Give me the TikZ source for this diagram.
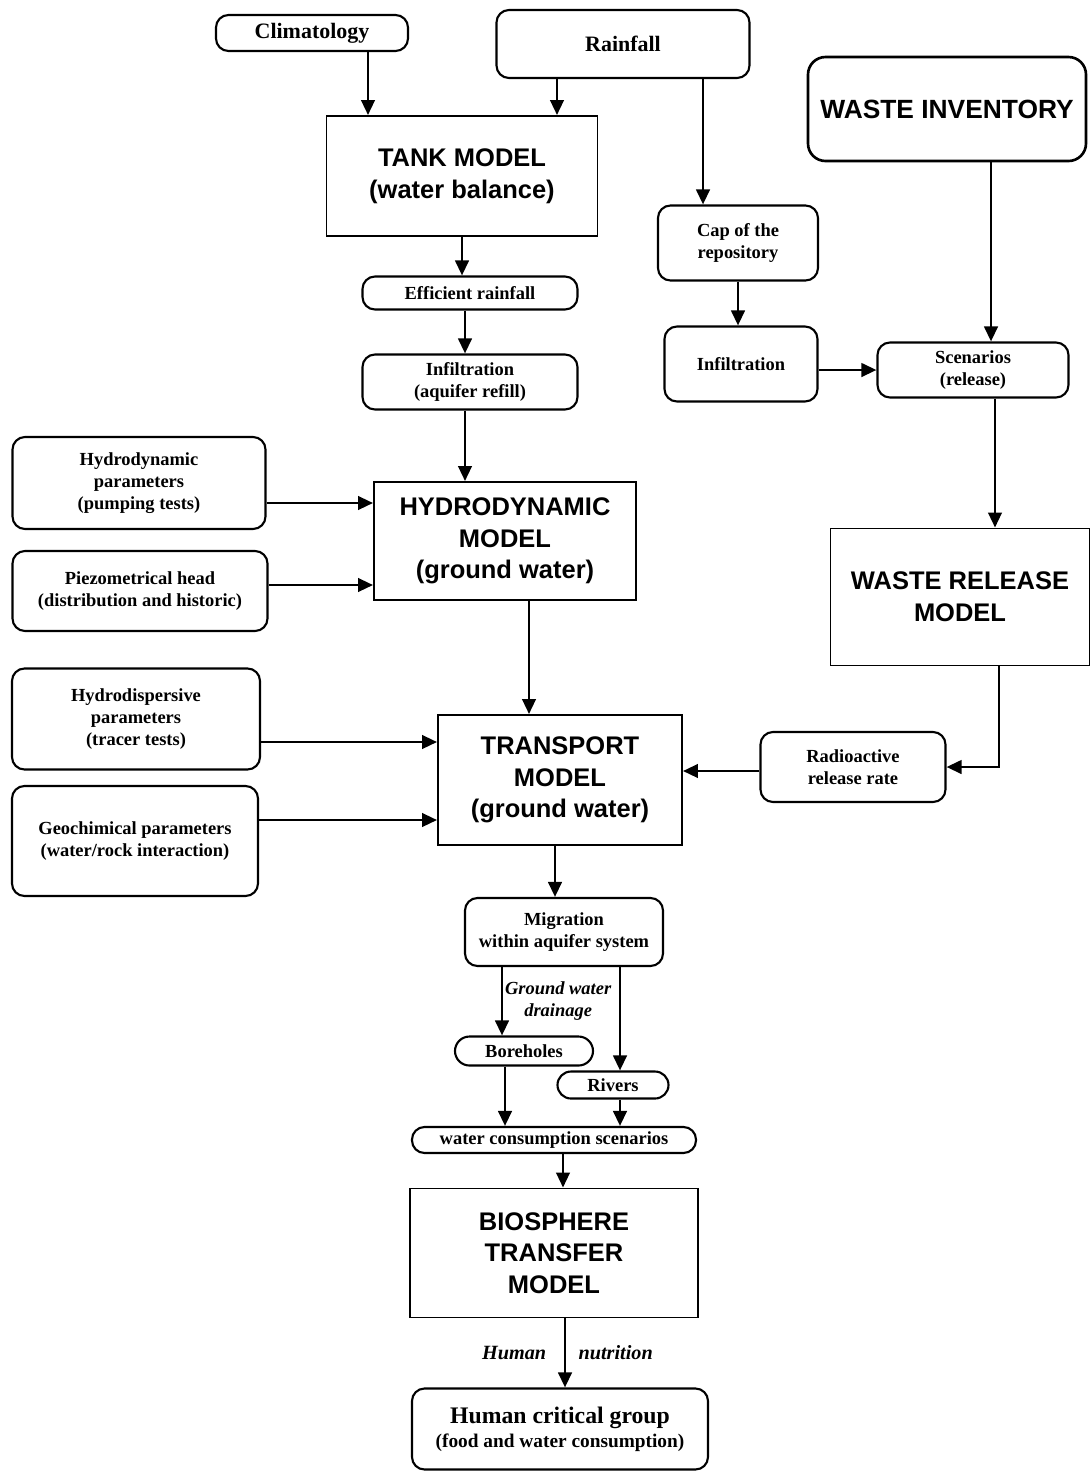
\documentclass[tikz,border=0pt]{standalone}
\usepackage{fontspec}
\setmainfont{Liberation Serif}
\setsansfont{Liberation Sans}
\usetikzlibrary{arrows.meta,positioning}

\begin{document}
\begin{tikzpicture}[
  x=0.2mm, y=-0.2mm,
  box/.style={draw, line width=1.2pt, rounded corners=2.5mm, align=center, inner sep=0pt, font=\bfseries\fontsize{10.5}{12.5}\selectfont},
  model/.style={draw, line width=1.1pt, align=center, inner sep=0pt, font=\sffamily\bfseries\fontsize{14.5}{18}\selectfont},
  flow/.style={-{Triangle[length=3mm, width=2.7mm]}, line width=1.5pt},
  note/.style={font=\bfseries\itshape\fontsize{10.5}{12.5}\selectfont, align=center, inner sep=1pt},
]
  \useasboundingbox (0,0) rectangle (1091,1472);

  \node[box, font=\bfseries\fontsize{12.5}{15}\selectfont, minimum width=3.84cm, minimum height=0.72cm] (clim) at (312,33) {Climatology};
  \node[box, font=\bfseries\fontsize{12.5}{15}\selectfont, minimum width=5.06cm, minimum height=1.36cm] (rain) at (623,44) {Rainfall};
  \node[model, minimum width=5.42cm, minimum height=2.4cm] (tank) at (462,176) {TANK MODEL\\(water balance)};
  \node[box, line width=1.5pt, rounded corners=3.5mm, font=\sffamily\bfseries\fontsize{15}{18}\selectfont, minimum width=5.56cm, minimum height=2.08cm] (inv) at (947,109) {WASTE INVENTORY};

  \node[box, minimum width=3.2cm, minimum height=1.5cm] (cap) at (738,243) {Cap of the\\repository};
  \node[box, minimum width=4.3cm, minimum height=0.66cm] (eff) at (470,293) {Efficient rainfall};
  \node[box, minimum width=4.3cm, minimum height=1.1cm] (infl) at (470,382) {Infiltration\\(aquifer refill)};
  \node[box, minimum width=3.06cm, minimum height=1.5cm] (infr) at (741,364) {Infiltration};
  \node[box, minimum width=3.82cm, minimum height=1.1cm] (scen) at (973,370) {Scenarios\\(release)};

  \node[box, minimum width=5.06cm, minimum height=1.84cm] (hpar) at (139,483) {Hydrodynamic\\parameters\\(pumping tests)};
  \node[box, minimum width=5.1cm, minimum height=1.6cm] (piez) at (140,591) {Piezometrical head\\(distribution and historic)};
  \node[model, minimum width=5.24cm, minimum height=2.36cm] (hydro) at (505,541) {HYDRODYNAMIC\\MODEL\\(ground water)};
  \node[model, minimum width=5.18cm, minimum height=2.74cm] (wrel) at (960,597) {WASTE RELEASE\\MODEL};

  \node[box, minimum width=4.96cm, minimum height=2.02cm] (hdis) at (136,719) {Hydrodispersive\\parameters\\(tracer tests)};
  \node[box, minimum width=4.92cm, minimum height=2.2cm] (geo) at (135,841) {Geochimical parameters\\(water/rock interaction)};
  \node[model, minimum width=4.88cm, minimum height=2.6cm] (trans) at (560,780) {TRANSPORT\\MODEL\\(ground water)};
  \node[box, minimum width=3.7cm, minimum height=1.4cm] (rate) at (853,767) {Radioactive\\release rate};

  \node[box, minimum width=3.96cm, minimum height=1.36cm] (migr) at (564,932) {Migration\\within aquifer system};
  \node[box, rounded corners=2.9mm, minimum width=2.76cm, minimum height=0.58cm] (bore) at (524,1051) {Boreholes};
  \node[box, rounded corners=2.7mm, minimum width=2.22cm, minimum height=0.54cm] (river) at (613,1085) {Rivers};
  \node[box, minimum width=5.68cm, minimum height=0.52cm] (cons) at (554,1140) {water consumption scenarios};
  \node[model, minimum width=5.76cm, minimum height=2.58cm] (bios) at (554,1253) {BIOSPHERE\\TRANSFER\\MODEL};
  \node[box, minimum width=5.92cm, minimum height=1.62cm, font=\bfseries\fontsize{11}{13.5}\selectfont] (crit) at (560,1429) {{\fontsize{13.5}{16}\selectfont Human critical group}\\(food and water consumption)};

  \draw[flow] ([xshift=1.12cm]clim.south) -- ([xshift=1.12cm]clim.south |- tank.north);
  \draw[flow] ([xshift=-1.32cm]rain.south) -- ([xshift=-1.32cm]rain.south |- tank.north);
  \draw[flow] ([xshift=1.6cm]rain.south) -- ([xshift=1.6cm]rain.south |- cap.north);
  \draw[flow] ([xshift=0.88cm]inv.south) -- ([xshift=0.88cm]inv.south |- scen.north);
  \draw[flow] (tank.south) -- (tank.south |- eff.north);
  \draw[flow] ([xshift=-0.1cm]eff.south) -- ([xshift=-0.1cm]eff.south |- infl.north);
  \draw[flow] ([xshift=-0.1cm]infl.south) -- ([xshift=-0.1cm]infl.south |- hydro.north);
  \draw[flow] (cap.south) -- (cap.south |- infr.north);
  \draw[flow] (scen.west -| infr.east) -- (scen.west);
  \draw[flow] ([xshift=0.44cm]scen.south) -- ([xshift=0.44cm]scen.south |- wrel.north);

  \draw[flow] ([yshift=-0.4cm]hpar.east) -- ([yshift=-0.4cm]hpar.east -| hydro.west);
  \draw[flow] ([yshift=0.12cm]piez.east) -- ([yshift=0.12cm]piez.east -| hydro.west);
  \draw[flow] ([xshift=0.48cm]hydro.south) -- ([xshift=0.48cm]hydro.south |- trans.north);
  \draw[flow] ([yshift=-0.46cm]hdis.east) -- ([yshift=-0.46cm]hdis.east -| trans.west);
  \draw[flow] ([yshift=0.42cm]geo.east) -- ([yshift=0.42cm]geo.east -| trans.west);
  \draw[flow] ([xshift=0.78cm]wrel.south) |- (rate.east);
  \draw[flow] ([yshift=-0.08cm]rate.west) -- ([yshift=-0.08cm]rate.west -| trans.east);

  \draw[flow] ([xshift=-0.1cm]trans.south) -- ([xshift=-0.1cm]trans.south |- migr.north);
  \draw[flow] ([xshift=-1.24cm]migr.south) -- ([xshift=-1.24cm]migr.south |- bore.north)
    node[note, midway, right] (drain) {Ground water\\drainage};
  \draw[flow] ([xshift=1.12cm]migr.south) -- ([xshift=1.12cm]migr.south |- river.north);
  \draw[flow] ([xshift=-0.38cm]bore.south) -- ([xshift=-0.38cm]bore.south |- cons.north);
  \draw[flow] ([xshift=0.14cm]river.south) -- ([xshift=0.14cm]river.south |- cons.north);
  \draw[flow] ([xshift=0.18cm]cons.south) -- ([xshift=0.18cm]cons.south |- bios.north);
  \draw[flow] ([xshift=0.22cm]bios.south) -- ([xshift=0.22cm]bios.south |- crit.north)
    node[note, font=\bfseries\itshape\fontsize{11.5}{14}\selectfont, midway, left=9pt] (human) {Human}
    node[note, font=\bfseries\itshape\fontsize{11.5}{14}\selectfont, midway, right=6pt] (nutr) {nutrition};
\end{tikzpicture}
\end{document}
